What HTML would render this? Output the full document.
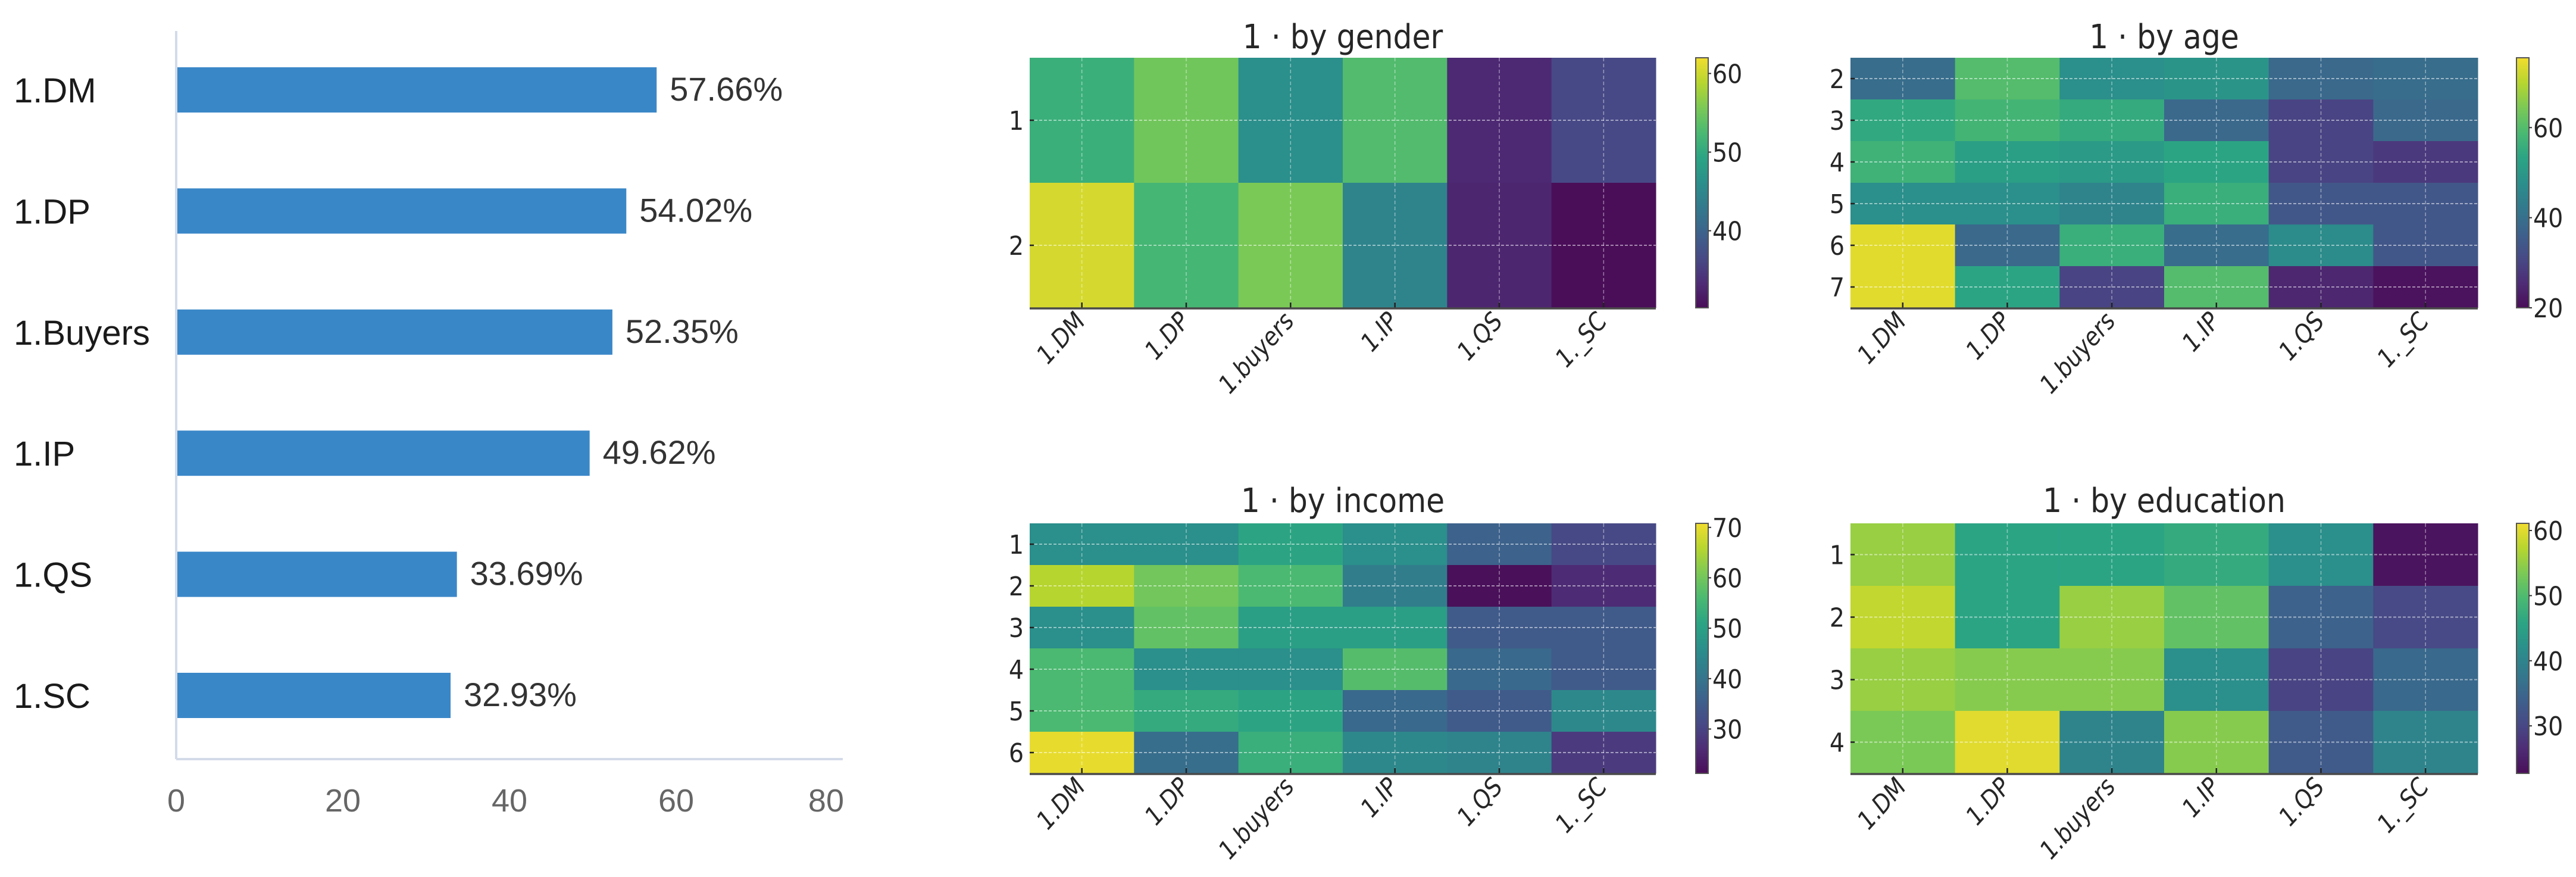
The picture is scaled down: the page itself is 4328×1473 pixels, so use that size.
<!DOCTYPE html>
<html><head><meta charset="utf-8"><style>
html,body{margin:0;padding:0;background:#fff;}
svg{display:block;}
</style></head><body>
<svg id="fig" width="4328" height="1473" viewBox="0 0 4328 1473" xmlns="http://www.w3.org/2000/svg"></svg>
<script>
// ---- Bar chart data ----
const barCategories = ["1.DM","1.DP","1.Buyers","1.IP","1.QS","1.SC"];
const barValues = [57.66, 54.02, 52.35, 49.62, 33.69, 32.93];
const barTicks = [0,20,40,60,80];

// ---- Heatmap data ----
const hmColumns = ["1.DM","1.DP","1.buyers","1.IP","1.QS","1._SC"];
const genderRows = ["1","2"];
const genderValues = [
 [50.9,55.0,46.0,53.0,33.0,36.5],
 [60.5,52.0,55.6,44.5,32.7,30.2]
];
const ageRows = ["2","3","4","5","6","7"];
const ageValues = [
 [39.4,60.0,47.7,49.0,38.3,39.4],
 [54.4,57.7,55.0,38.3,30.0,38.3],
 [57.0,51.6,50.5,53.3,30.0,27.8],
 [47.7,47.7,45.0,56.0,34.0,34.0],
 [74.0,38.3,56.0,39.4,46.6,34.0],
 [74.0,53.3,30.0,60.0,24.4,21.0]
];
const incomeRows = ["1","2","3","4","5","6"];
const incomeValues = [
 [46.0,46.0,51.0,46.0,36.0,31.0],
 [65.8,60.0,56.0,42.0,21.5,26.0],
 [46.0,58.4,49.5,49.5,34.6,34.6],
 [56.0,46.0,46.0,57.0,37.6,34.6],
 [56.0,52.4,51.0,37.6,34.6,44.5],
 [70.0,38.6,53.4,44.5,43.5,28.6]
];
const educationRows = ["1","2","3","4"];
const educationValues = [
 [55.3,45.7,45.7,46.9,41.9,23.5],
 [58.0,45.7,55.3,51.5,34.2,30.4],
 [55.3,54.2,54.2,41.9,29.6,35.4],
 [53.4,60.0,40.0,54.2,33.0,40.0]
];
const genderTicks = [40,50,60];
const ageTicks = [20,40,60];
const incomeTicks = [30,40,50,60,70];
const educationTicks = [30,40,50,60];

const NS = "http://www.w3.org/2000/svg";
const svg = document.getElementById("fig");
function mk(tag, attrs, parent){
  const e = document.createElementNS(NS, tag);
  for (const k in attrs) e.setAttribute(k, attrs[k]);
  (parent||svg).appendChild(e);
  return e;
}
const FONT = "'DejaVu Sans Condensed', 'DejaVu Sans', sans-serif";

// ---- Bar chart ----
const bx0 = 296, bx1 = 1416, bMax = 80;
const bxScale = v => bx0 + (v / bMax) * (bx1 - bx0);
const bTop0 = 113, bStep = 203.4, bH = 76;
const barG = mk("g", {});


const yAxis = mk("line", {x1:bx0, y1:52, x2:bx0, y2:1275, stroke:"#d3dbea", "stroke-width":4}, barG);


const xAxis = mk("line", {x1:bx0, y1:1275, x2:bx1, y2:1275, stroke:"#d3dbea", "stroke-width":4}, barG);


barTicks.forEach((t,i)=>{
  const tx = mk("text", {x:bxScale(t), y:1363, "text-anchor": i===barTicks.length-1 ? "end" : "middle", "font-family":"Liberation Sans, sans-serif", "font-size":54, fill:"#666"}, barG);
  if (i===barTicks.length-1) tx.setAttribute("x", bxScale(t)+2);
  tx.textContent = t;
  
  
});
barCategories.forEach((c,i)=>{
  const y = bTop0 + i*bStep;
  const r = mk("rect", {x:bx0+2, y:y, width:bxScale(barValues[i])-bx0-2, height:bH, fill:"#3a87c8"}, barG);
  
  
  const lab = mk("text", {x:23, y:y+bH/2+21, "font-family":"Liberation Sans, sans-serif", "font-size":58, fill:"#1a1a1a"}, barG);
  lab.textContent = c;
  
  
  const val = mk("text", {x:bxScale(barValues[i])+22, y:y+bH/2+18, "font-family":"Liberation Sans, sans-serif", "font-size":56, fill:"#333"}, barG);
  val.textContent = barValues[i].toFixed(2) + "%";
  
  
});

// ---- viridis ----
const VIR = ["#440154","#482475","#414487","#355f8d","#2a788e","#21918c","#22a884","#44bf70","#7ad151","#bddf26","#fde725"];
function hex(h){return [parseInt(h.slice(1,3),16),parseInt(h.slice(3,5),16),parseInt(h.slice(5,7),16)];}
function viridis(t){
  t = Math.max(0, Math.min(1, t));
  const p = t*10, i = Math.min(9, Math.floor(p)), f = p - i;
  const a = hex(VIR[i]), b = hex(VIR[i+1]);
  const c = a.map((v,k)=>Math.round((v + (b[k]-v)*f)*0.9 + 128*0.1));
  return "rgb("+c.join(",")+")";
}

function ctext(parent, x, y, str, size, anchor, name){
  const t = mk("text", {x:x, y:y, "text-anchor":anchor, "font-family":FONT, "font-stretch":"condensed", "font-size":size, fill:"#262626"}, parent);
  t.textContent = str;
  
  
  return t;
}

function heatmap(p){
  const g = mk("g", {});
  
  
  const nR = p.rows.length, nC = hmColumns.length;
  const cw = (p.x1 - p.x0)/nC, ch = (p.y1 - p.y0)/nR;
  const col = v => viridis((v - p.vmin)/(p.vmax - p.vmin));
  p.values.forEach((row, r)=>{
    row.forEach((v, c)=>{
      const cell = mk("rect", {x:p.x0 + c*cw, y:p.y0 + r*ch, width:cw+0.5, height:ch+0.5, fill:col(v)}, g);
      
      
    });
  });
  for (let c=0;c<nC;c++){
    const x = p.x0 + (c+0.5)*cw;
    const l = mk("line", {x1:x, y1:p.y0, x2:x, y2:p.y1, stroke:"#ffffff", "stroke-opacity":0.45, "stroke-width":1.5, "stroke-dasharray":"6,4"}, g);
    
    
    const tk = mk("line", {x1:x, y1:p.y1, x2:x, y2:p.y1-9, stroke:"#222", "stroke-width":2.5}, g);
    
    
    const lt = mk("text", {x:0, y:0, transform:"translate("+(x+8)+","+(p.y1+24)+") rotate(-48)", "text-anchor":"end", "font-family":FONT, "font-stretch":"condensed", "font-style":"italic", "font-size":42, fill:"#262626"}, g);
    lt.textContent = hmColumns[c];
    
    
  }
  for (let r=0;r<nR;r++){
    const y = p.y0 + (r+0.5)*ch;
    const l = mk("line", {x1:p.x0, y1:y, x2:p.x1, y2:y, stroke:"#ffffff", "stroke-opacity":0.5, "stroke-width":2, "stroke-dasharray":"5,3"}, g);
    
    
    const tk = mk("line", {x1:p.x0, y1:y, x2:p.x0+7, y2:y, stroke:"#222", "stroke-width":2.5}, g);
    
    
    ctext(g, p.x0-10, y+16, p.rows[r], 44, "end", "y-tick-label");
  }
  const ax = mk("line", {x1:p.x0, y1:p.y1+1, x2:p.x1, y2:p.y1+1, stroke:"#4a4a4a", "stroke-width":3.5}, g);
  
  
  ctext(g, (p.x0+p.x1)/2, p.titleY+19, p.title, 56, "middle", "panel-title");
  const gid = "grad-" + p.name;
  const defs = mk("defs", {}, g);
  const lg = mk("linearGradient", {id:gid, x1:0, y1:1, x2:0, y2:0}, defs);
  for (let i=0;i<=20;i++){
    mk("stop", {offset:(i/20), "stop-color":viridis(i/20)}, lg);
  }
  const cbw = 21;
  const cb = mk("rect", {x:p.cbx, y:p.y0, width:cbw, height:p.y1-p.y0, fill:"url(#"+gid+")", stroke:"#555", "stroke-width":2}, g);
  
  
  const cy = v => p.y1 - (v - p.vmin)/(p.vmax - p.vmin)*(p.y1 - p.y0);
  p.ticks.forEach(t=>{
    const y = cy(t);
    const tk = mk("line", {x1:p.cbx+cbw, y1:y, x2:p.cbx+cbw+5, y2:y, stroke:"#333", "stroke-width":2}, g);
    
    
    ctext(g, p.cbx+cbw+7, y+16, String(t), 44, "start", "colorbar-tick-label");
  });
}

heatmap({name:"heatmap-gender", title:"1 · by gender", rows:genderRows, values:genderValues, ticks:genderTicks,
  x0:1730, x1:2782, y0:97, y1:517, cbx:2849, vmin:30.2, vmax:62, titleY:62});
heatmap({name:"heatmap-age", title:"1 · by age", rows:ageRows, values:ageValues, ticks:ageTicks,
  x0:3109, x1:4163, y0:97, y1:517, cbx:4228, vmin:20, vmax:75.5, titleY:62});
heatmap({name:"heatmap-income", title:"1 · by income", rows:incomeRows, values:incomeValues, ticks:incomeTicks,
  x0:1730, x1:2782, y0:879, y1:1299, cbx:2849, vmin:21.2, vmax:70.8, titleY:841});
heatmap({name:"heatmap-education", title:"1 · by education", rows:educationRows, values:educationValues, ticks:educationTicks,
  x0:3109, x1:4163, y0:879, y1:1299, cbx:4228, vmin:22.7, vmax:61.1, titleY:841});
</script>
</body></html>
